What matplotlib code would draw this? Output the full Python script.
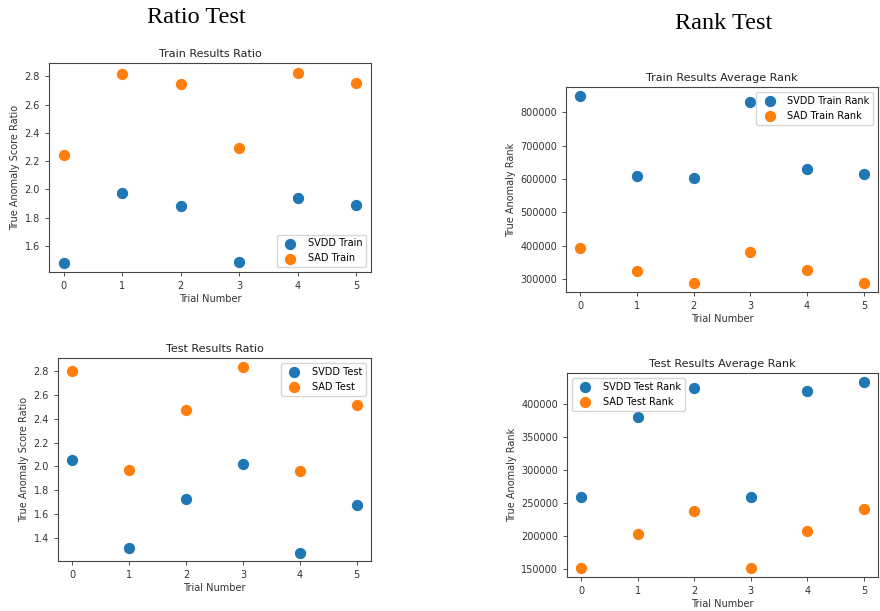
import matplotlib
matplotlib.use("Agg")
from matplotlib import pyplot as plt

# Trial indices shared by all four panels
trials = [0, 1, 2, 3, 4, 5]

# Ratio test values (true anomaly score ratio)
svdd_train_ratio = [1.482, 1.976, 1.881, 1.487, 1.942, 1.886]
sad_train_ratio = [2.243, 2.819, 2.743, 2.290, 2.828, 2.757]
svdd_test_ratio = [2.052, 1.318, 1.729, 2.018, 1.274, 1.673]
sad_test_ratio = [2.800, 1.973, 2.477, 2.834, 1.965, 2.516]

# Rank test values (true anomaly average rank)
svdd_train_rank = [847000, 609000, 602000, 830000, 630000, 616000]
sad_train_rank = [393000, 326000, 290000, 381000, 328000, 290000]
svdd_test_rank = [258600, 379800, 423700, 258600, 419200, 432300]
sad_test_rank = [151500, 203000, 237900, 151500, 207100, 240900]

BLUE = "#1f77b4"
ORANGE = "#ff7f0e"
W, H = 880, 611

fig = plt.figure(figsize=(W / 100, H / 100), dpi=100)
plt.rcParams["font.size"] = 7


def px_axes(x0, y0, x1, y1):
    return fig.add_axes([x0 / W, 1 - y1 / H, (x1 - x0) / W, (y1 - y0) / H])


def panel(ax, a, b, labels, title, ylabel, loc):
    ax.scatter(trials, a, s=80, color=BLUE, edgecolors="white", linewidths=0.8, label=labels[0])
    ax.scatter(trials, b, s=80, color=ORANGE, edgecolors="white", linewidths=0.8, label=labels[1])
    ax.set_title(title, fontsize=8, color="#222222", pad=4)
    ax.set_xlabel("Trial Number", fontsize=7, color="#333333", labelpad=2)
    ax.set_ylabel(ylabel, fontsize=7, color="#333333", labelpad=3)
    ax.set_xticks(trials)
    ax.tick_params(labelsize=7, colors="#333333", length=3, width=0.6)
    for s in ax.spines.values():
        s.set_color("#444444")
        s.set_linewidth(0.8)
    ax.legend(loc=loc, fontsize=7, frameon=True, borderpad=0.4, handletextpad=0.8)


ax1 = px_axes(49, 63, 371, 272)
panel(ax1, svdd_train_ratio, sad_train_ratio, ["SVDD Train", "SAD Train"],
      "Train Results Ratio", "True Anomaly Score Ratio", "lower right")

ax2 = px_axes(566, 87, 878, 292)
panel(ax2, svdd_train_rank, sad_train_rank, ["SVDD Train Rank", "SAD Train Rank"],
      "Train Results Average Rank", "True Anomaly Rank", "upper right")

ax3 = px_axes(58, 358, 371, 561)
panel(ax3, svdd_test_ratio, sad_test_ratio, ["SVDD Test", "SAD Test"],
      "Test Results Ratio", "True Anomaly Score Ratio", "upper right")
ax3.set_ylim(1.205, 2.91)

ax4 = px_axes(567, 373, 878, 577)
panel(ax4, svdd_test_rank, sad_test_rank, ["SVDD Test Rank", "SAD Test Rank"],
      "Test Results Average Rank", "True Anomaly Rank", "upper left")

# Section headers
fig.text(196 / W, 1 - 23 / H, "Ratio Test", ha="center", va="baseline",
         family="Liberation Serif", fontsize=17.5)
fig.text(724 / W, 1 - 29 / H, "Rank Test", ha="center", va="baseline",
         family="Liberation Serif", fontsize=17.5)

fig.savefig("out.png", dpi=100, facecolor="white")
